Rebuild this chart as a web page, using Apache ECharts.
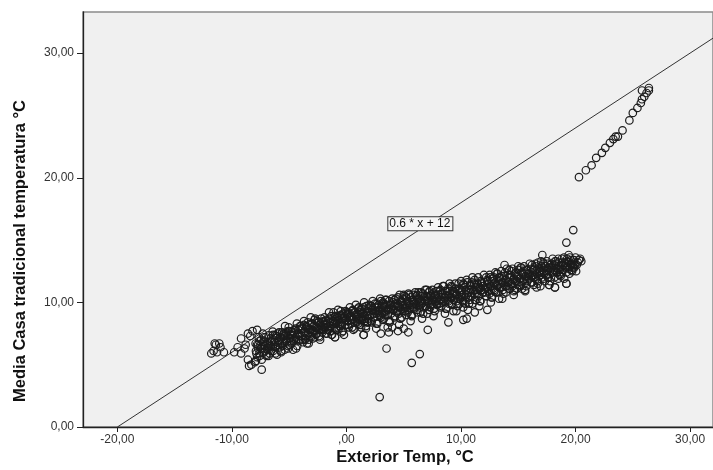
<!DOCTYPE html>
<html>
<head>
<meta charset="utf-8">
<script src="https://cdn.jsdelivr.net/npm/echarts@6/dist/echarts.min.js"></script>
<style>html,body{margin:0;padding:0;background:#fff}#c{width:713px;height:470px}</style>
</head>
<body>
<div id="c"></div>
<script>
// ---- axis ticks / labels ----
const xTicks = [-20, -10, 0, 10, 20, 30];
const xTickLabels = ['-20,00', '-10,00', ',00', '10,00', '20,00', '30,00'];
const yTicks = [0, 10, 20, 30];
const yTickLabels = ['0,00', '10,00', '20,00', '30,00'];
const xTitle = 'Exterior Temp, °C';
const yTitle = 'Media Casa tradicional temperatura °C';

// ---- reference line y = 0.6 * x + 12 ----
const lineSlope = 0.6;
const lineIntercept = 12;
const lineXRange = [-20, 32];
const lineLabel = '0.6 * x + 12';
const lineLabelAt = [6.45, 16.3];

// ---- points [Exterior Temp, Media Casa] ----
const leftCluster = [
  [-11.8,5.9],[-11.6,6.1],[-11.4,6.6],[-11.1,6.7],[-11.0,6.4],[-10.7,6.0],[-11.3,6.0],[-11.5,6.7],
  [-9.8,6.0],[-9.5,6.4],[-9.2,5.9],[-9.2,7.1],[-8.9,6.3],[-8.6,7.5],[-8.2,7.7],[-7.8,7.8],[-8.4,7.3],
  [-8.5,4.9],[-8.3,5.0],[-7.4,4.6],[-8.0,5.2],[-8.6,5.4],[-8.8,6.6]
];
const bandA = [
  [-7.9,6.1],[-7.8,5.6],[-7.7,6.6],[-7.6,5.9],[-7.5,6.3],[-7.4,5.4],[-7.3,6.8],[-7.2,6.0],[-7.1,6.5],[-7.0,5.8],[-7.9,5.3],[-7.6,6.9],[-7.2,7.2],
  [-6.9,6.2],[-6.8,6.7],[-6.7,5.9],[-6.6,6.5],[-6.5,7.0],[-6.4,6.1],[-6.3,6.8],[-6.2,6.4],[-6.1,7.3],[-6.0,6.6],[-6.8,5.7],[-6.4,7.4],[-6.2,5.9],
  [-5.9,6.9],[-5.8,6.4],[-5.7,7.1],[-5.6,6.7],[-5.5,7.5],[-5.4,6.2],[-5.3,7.0],[-5.2,6.8],[-5.1,7.7],[-5.0,6.6],[-5.7,6.0],[-5.4,7.3],[-5.1,6.3],
  [-4.9,7.1],[-4.8,6.7],[-4.7,7.4],[-4.6,6.9],[-4.5,7.8],[-4.4,7.2],[-4.3,6.5],[-4.2,7.5],[-4.1,7.0],[-4.0,7.9],[-4.8,7.6],[-4.4,6.3],[-4.1,7.3],
  [-3.9,7.3],[-3.8,6.8],[-3.7,7.6],[-3.6,7.1],[-3.5,8.0],[-3.4,7.4],[-3.3,6.7],[-3.2,7.8],[-3.1,7.2],[-3.0,8.3],[-3.7,8.2],[-3.3,7.0],[-3.0,7.6],
  [-2.9,7.7],[-2.8,7.2],[-2.7,8.0],[-2.6,7.5],[-2.5,8.4],[-2.4,7.8],[-2.3,7.0],[-2.2,8.1],[-2.1,7.6],[-2.0,8.5],[-2.8,8.6],[-2.4,7.3],[-2.1,7.9],
  [-1.9,8.0],[-1.8,7.5],[-1.7,8.3],[-1.6,7.8],[-1.5,8.7],[-1.4,8.1],[-1.3,7.4],[-1.2,8.5],[-1.1,7.9],[-1.0,8.8],[-1.8,8.2],[-1.4,7.7],[-1.0,7.2],
  [-0.9,8.3],[-0.8,7.8],[-0.7,8.6],[-0.6,8.1],[-0.5,9.0],[-0.4,8.4],[-0.3,7.7],[-0.2,8.8],[-0.1,8.2],[0.0,9.2],[-0.8,8.9],[-0.4,7.6],[-0.1,8.6],
  [0.1,8.5],[0.2,8.0],[0.3,8.9],[0.4,8.3],[0.5,9.3],[0.6,8.6],[0.7,7.9],[0.8,9.0],[0.9,8.4],[1.0,9.5],[0.2,9.1],[0.6,7.8],[0.9,8.8],
  [1.1,8.7],[1.2,8.2],[1.3,9.1],[1.4,8.6],[1.5,9.6],[1.6,8.9],[1.7,8.1],[1.8,9.3],[1.9,8.7],[2.0,9.8],[1.2,9.4],[1.5,7.4],[1.8,8.4],
  [2.1,9.0],[2.2,8.4],[2.3,9.4],[2.4,8.8],[2.5,9.9],[2.6,9.1],[2.7,8.3],[2.8,9.6],[2.9,8.9],[3.0,10.1],[2.2,9.7],[2.6,7.9],[2.9,9.3],
  [3.1,9.2],[3.2,8.6],[3.3,9.7],[3.4,9.0],[3.5,10.2],[3.6,9.4],[3.7,8.5],[3.8,9.8],[3.9,9.1],[4.0,10.3],[3.2,10.0],[3.6,8.0],[3.9,9.5],
  [4.1,9.4],[4.2,8.8],[4.3,9.9],[4.4,9.2],[4.5,10.4],[4.6,9.6],[4.7,8.7],[4.8,10.0],[4.9,9.3],[5.0,10.6],[4.2,10.2],[4.6,8.2],[4.9,9.8],
  [5.1,9.6],[5.2,9.0],[5.3,10.1],[5.4,9.4],[5.5,10.6],[5.6,9.8],[5.7,8.9],[5.8,10.2],[5.9,9.5],[6.0,10.8],[5.2,10.4],[5.6,8.5],[5.9,9.9],
  [6.1,9.8],[6.2,9.2],[6.3,10.3],[6.4,9.6],[6.5,10.8],[6.6,10.0],[6.7,9.1],[6.8,10.4],[6.9,9.7],[7.0,11.0],[6.2,10.6],[6.6,8.7],[6.9,10.1],
  [7.1,10.0],[7.2,9.4],[7.3,10.5],[7.4,9.8],[7.5,11.0],[7.6,10.2],[7.7,9.3],[7.8,10.6],[7.9,9.9],[8.0,11.2],[7.2,10.8],[7.6,8.9],[7.9,10.3],
  [8.1,10.2],[8.2,9.6],[8.3,10.7],[8.4,10.0],[8.5,11.3],[8.6,10.4],[8.7,9.5],[8.8,10.9],[8.9,10.1],[9.0,11.5],[8.2,11.0],[8.6,9.1],[8.9,10.6],
  [9.1,10.4],[9.2,9.8],[9.3,10.9],[9.4,10.2],[9.5,11.5],[9.6,10.6],[9.7,9.7],[9.8,11.1],[9.9,10.3],[10.0,11.7],[9.2,11.2],[9.6,9.3],[9.9,10.8],
  [10.1,10.6],[10.2,10.0],[10.3,11.2],[10.4,10.4],[10.5,11.8],[10.6,10.8],[10.7,9.9],[10.8,11.4],[10.9,10.5],[11.0,12.0],[10.2,11.5],[10.6,9.4],[10.9,11.0],
  [11.1,10.9],[11.2,10.2],[11.3,11.4],[11.4,10.7],[11.5,12.0],[11.6,11.1],[11.7,10.1],[11.8,11.6],[11.9,10.8],[12.0,12.2],[11.2,11.8],[11.6,9.7],[11.9,11.3],
  [12.1,11.1],[12.2,10.5],[12.3,11.7],[12.4,10.9],[12.5,12.2],[12.6,11.3],[12.7,10.4],[12.8,11.9],[12.9,11.0],[13.0,12.4],[12.2,12.0],[12.6,10.0],[12.9,11.5],
  [13.1,11.4],[13.2,10.8],[13.3,12.0],[13.4,11.2],[13.5,12.5],[13.6,11.6],[13.7,10.7],[13.8,12.1],[13.9,11.3],[14.0,12.7],[13.2,12.3],[13.6,10.3],[13.9,11.8],
  [14.1,11.6],[14.2,11.1],[14.3,12.2],[14.4,11.5],[14.5,12.7],[14.6,11.9],[14.7,11.0],[14.8,12.4],[14.9,11.7],[15.0,12.9],[14.2,12.6],[14.6,10.6],[14.9,12.1],
  [15.1,11.9],[15.2,11.3],[15.3,12.4],[15.4,11.7],[15.5,12.9],[15.6,12.1],[15.7,11.3],[15.8,12.6],[15.9,11.9],[16.0,13.1],[15.2,12.8],[15.6,10.9],[15.9,12.3],
  [16.1,12.1],[16.2,11.6],[16.3,12.7],[16.4,12.0],[16.5,13.1],[16.6,12.3],[16.7,11.5],[16.8,12.8],[16.9,12.2],[17.0,13.3],[16.2,13.0],[16.6,11.2],[16.9,12.5],
  [17.1,12.4],[17.2,11.9],[17.3,12.9],[17.4,12.2],[17.5,13.3],[17.6,12.6],[17.7,11.4],[17.8,13.0],[17.9,12.4],[18.0,13.5],[17.2,13.1],[17.6,12.0],[17.9,12.8],
  [18.1,12.6],[18.2,11.2],[18.3,13.1],[18.4,12.4],[18.5,13.5],[18.6,12.8],[18.7,12.1],[18.8,13.2],[18.9,12.6],[19.0,13.6],[18.2,13.3],[18.6,12.2],[18.9,13.0],
  [19.1,12.9],[19.2,11.5],[19.3,13.3],[19.4,12.7],[19.5,13.6],[19.6,13.0],[19.7,12.5],[19.8,13.4],[19.9,12.8],[20.0,13.6],[20.2,13.2],[20.4,13.5],[20.5,13.3],[19.4,13.8],[19.8,12.9],[20.1,13.0]
];
const bandB = [
  [-7.93,6.7],[-7.86,5.9],[-7.81,6.6],[-7.72,6.3],[-7.66,7.2],[-7.58,5.7],[-7.51,6.55],[-7.44,7.0],[-7.39,6.3],[-7.31,7.5],
  [-7.24,6.5],[-7.17,6.85],[-7.12,6.1],[-7.05,7.2],[-6.98,5.7],[-6.91,6.8],[-6.84,6.35],[-6.79,7.35],[-6.71,6.6],[-6.63,7.1],
  [-6.58,6.1],[-6.52,6.85],[-6.44,7.65],[-6.37,6.6],[-6.31,6.8],[-6.25,7.35],[-6.18,6.45],[-6.11,7.15],[-6.06,5.8],[-6.02,7.5],
  [-5.95,6.8],[-5.88,7.6],[-5.83,6.7],[-5.76,7.2],[-5.69,6.1],[-5.62,7.6],[-5.57,6.5],[-5.49,7.4],[-5.43,7.1],[-5.36,8.1],
  [-5.29,6.9],[-5.23,7.6],[-5.16,7.3],[-5.1,6.5],[-5.04,8.0],[-4.97,7.1],[-4.91,7.4],[-4.85,6.9],[-4.78,7.7],[-4.72,7.4],
  [-4.66,6.2],[-4.59,7.6],[-4.53,7.1],[-4.46,7.9],[-4.39,7.0],[-4.33,8.3],[-4.27,7.4],[-4.2,7.8],[-4.13,6.9],[-4.06,8.1],
  [-3.96,8.1],[-3.9,7.3],[-3.84,7.9],[-3.77,7.0],[-3.71,8.5],[-3.64,7.7],[-3.58,7.3],[-3.51,8.1],[-3.45,6.7],[-3.38,8.4],
  [-3.32,7.6],[-3.25,7.9],[-3.19,7.3],[-3.12,8.8],[-3.06,7.8],[-2.99,8.3],[-2.93,7.1],[-2.86,8.1],[-2.8,7.7],[-2.73,8.7],
  [-2.67,7.4],[-2.6,8.0],[-2.54,8.5],[-2.47,7.9],[-2.41,8.4],[-2.34,7.2],[-2.28,8.2],[-2.21,8.7],[-2.15,7.8],[-2.07,8.4],
  [-1.97,7.8],[-1.91,8.8],[-1.84,8.2],[-1.78,8.6],[-1.71,7.5],[-1.65,8.5],[-1.58,7.8],[-1.52,9.2],[-1.45,8.4],[-1.39,8.1],
  [-1.32,8.9],[-1.26,7.4],[-1.19,8.5],[-1.13,9.2],[-1.06,8.3],[-1.0,8.9],[-0.93,7.9],[-0.87,8.7],[-0.8,8.5],[-0.74,9.4],
  [-0.67,7.9],[-0.61,8.9],[-0.54,8.3],[-0.48,9.3],[-0.41,8.2],[-0.35,8.7],[-0.28,9.1],[-0.22,7.4],[-0.15,8.9],[-0.08,9.3],
  [0.04,9.0],[0.11,8.2],[0.17,9.2],[0.24,8.8],[0.3,9.6],[0.37,8.6],[0.43,8.9],[0.5,8.0],[0.56,9.4],[0.63,8.7],
  [0.69,9.2],[0.76,8.5],[0.82,9.8],[0.89,8.9],[0.95,9.1],[1.02,8.3],[1.08,9.6],[1.15,8.6],[1.21,9.2],[1.28,8.0],
  [1.34,9.5],[1.41,9.1],[1.47,8.8],[1.54,10.0],[1.6,8.5],[1.67,9.2],[1.73,9.7],[1.8,9.0],[1.86,8.4],[1.93,9.5],
  [2.03,8.9],[2.1,9.7],[2.16,8.5],[2.23,9.4],[2.29,10.1],[2.36,9.1],[2.42,8.8],[2.49,9.6],[2.55,9.3],[2.62,8.3],
  [2.68,9.9],[2.75,9.3],[2.81,9.8],[2.88,9.0],[2.94,10.3],[3.01,8.8],[3.07,9.6],[3.14,9.1],[3.2,9.9],[3.27,8.7],
  [3.33,9.6],[3.4,10.2],[3.46,9.3],[3.53,9.8],[3.59,9.0],[3.66,9.5],[3.72,10.1],[3.79,8.4],[3.85,9.8],[3.92,9.5],
  [4.05,10.0],[4.12,9.4],[4.18,9.7],[4.25,8.9],[4.31,10.3],[4.38,9.3],[4.44,9.9],[4.51,9.7],[4.57,9.1],[4.64,10.6],
  [4.7,9.6],[4.77,10.1],[4.83,8.8],[4.9,10.3],[4.96,9.5],[5.03,10.5],[5.09,9.3],[5.16,9.9],[5.22,9.6],[5.29,10.3],
  [5.35,9.2],[5.42,10.7],[5.48,9.9],[5.55,9.6],[5.61,10.4],[5.68,9.0],[5.74,10.2],[5.81,10.6],[5.87,9.6],[5.94,10.1],
  [6.02,9.9],[6.09,10.5],[6.15,9.4],[6.22,10.2],[6.28,10.8],[6.35,9.8],[6.41,10.1],[6.48,9.2],[6.54,10.5],[6.61,9.9],
  [6.67,10.7],[6.74,9.6],[6.8,10.2],[6.87,11.0],[6.93,9.7],[7.0,10.5],[7.06,9.1],[7.13,10.4],[7.19,10.1],[7.26,10.9],
  [7.32,9.6],[7.39,10.6],[7.45,10.2],[7.52,9.9],[7.58,10.7],[7.65,9.5],[7.71,10.5],[7.78,10.1],[7.84,10.9],[7.91,9.8],
  [8.04,10.6],[8.1,9.9],[8.17,10.9],[8.23,10.2],[8.3,9.7],[8.36,10.6],[8.43,11.3],[8.49,10.1],[8.56,10.4],[8.62,10.9],
  [8.69,9.5],[8.75,10.5],[8.82,10.2],[8.88,11.1],[8.95,9.9],[9.01,10.9],[9.08,10.4],[9.14,11.3],[9.21,9.9],[9.27,10.7],
  [9.34,9.3],[9.4,10.8],[9.47,10.5],[9.53,11.1],[9.6,10.1],[9.66,10.6],[9.73,10.3],[9.79,11.5],[9.86,9.9],[9.92,11.0],
  [10.03,10.4],[10.1,11.0],[10.16,10.1],[10.23,11.4],[10.29,10.7],[10.36,9.9],[10.42,11.0],[10.49,10.6],[10.55,11.6],[10.62,10.4],
  [10.68,11.0],[10.75,10.2],[10.81,11.3],[10.88,10.5],[10.94,11.6],[11.01,9.9],[11.07,11.0],[11.14,11.5],[11.2,10.7],[11.27,11.2],
  [11.33,10.2],[11.4,11.0],[11.46,11.5],[11.53,10.5],[11.59,11.2],[11.66,10.1],[11.72,11.7],[11.79,11.0],[11.85,11.5],[11.92,10.8],
  [12.02,11.6],[12.09,10.8],[12.15,11.2],[12.22,10.5],[12.28,11.8],[12.35,11.1],[12.41,11.5],[12.48,10.7],[12.54,12.0],[12.61,11.3],
  [12.67,10.4],[12.74,11.7],[12.8,11.1],[12.87,12.0],[12.93,10.9],[13.0,11.6],[13.06,10.8],[13.13,12.3],[13.19,11.3],[13.26,11.7],
  [13.32,10.3],[13.39,12.0],[13.45,11.5],[13.52,11.2],[13.58,12.1],[13.65,11.0],[13.71,11.6],[13.78,11.4],[13.84,12.4],[13.91,10.8],
  [14.03,11.3],[14.1,12.2],[14.16,11.6],[14.23,11.1],[14.29,12.0],[14.36,11.5],[14.42,12.5],[14.49,11.3],[14.55,11.8],[14.62,10.9],
  [14.68,12.3],[14.75,11.7],[14.81,12.2],[14.88,11.1],[14.94,12.0],[15.01,12.6],[15.07,11.4],[15.14,11.9],[15.2,11.6],[15.27,12.8],
  [15.33,11.1],[15.4,12.3],[15.46,11.8],[15.53,12.5],[15.59,11.0],[15.66,12.1],[15.72,12.6],[15.79,11.7],[15.85,12.3],[15.92,12.0],
  [16.02,12.3],[16.09,11.6],[16.15,12.7],[16.22,12.1],[16.28,12.6],[16.35,11.4],[16.41,12.2],[16.48,12.9],[16.54,11.9],[16.61,12.6],
  [16.67,11.7],[16.74,13.2],[16.8,12.1],[16.87,12.4],[16.93,11.3],[17.0,12.9],[17.06,12.0],[17.13,12.6],[17.19,13.2],[17.26,12.3],
  [17.32,11.7],[17.39,12.9],[17.45,12.5],[17.52,12.2],[17.58,13.1],[17.65,12.0],[17.71,12.8],[17.78,11.7],[17.84,12.7],[17.91,13.1],
  [18.03,12.4],[18.1,13.0],[18.16,12.0],[18.23,12.8],[18.29,13.3],[18.36,12.4],[18.42,12.7],[18.49,11.9],[18.55,13.2],[18.62,12.6],
  [18.68,13.0],[18.75,12.3],[18.81,13.5],[18.88,12.6],[18.94,13.0],[19.01,11.9],[19.07,13.2],[19.14,12.8],[19.2,12.4],[19.27,13.5],
  [19.33,12.8],[19.4,13.2],[19.46,12.3],[19.53,13.1],[19.59,13.4],[19.66,12.6],[19.72,13.0],[19.79,12.8],[19.85,13.4],[19.92,13.0],
  [20.05,12.5],[20.3,13.4]
];
const lowOutliers = [
  [2.9,2.4],[3.5,6.3],[6.4,5.85],[5.7,5.15],
  [3.0,7.5],[3.7,7.6],[4.5,7.7],[5.4,7.6],[7.1,7.8],[1.7,7.9],[5.0,7.9],[4.0,8.0],
  [-1.0,7.2],[1.5,7.4],[-3.6,7.0],[8.9,8.4],[10.2,8.6],[10.5,8.7],[11.2,9.2],[12.3,9.4],[10.2,9.6],
  [17.7,11.4],[18.2,11.2],[19.2,11.5]
];
const highOutliers = [
  [19.2,14.8],[19.8,15.8],[17.1,13.8],[13.8,13.0]
];
const upperStreak = [
  [20.3,20.05],[20.9,20.6],[21.4,21.0],[21.8,21.6],[22.3,22.0],[22.6,22.4],[23.0,22.8],[23.3,23.1],
  [23.5,23.3],[23.7,23.3],[24.1,23.8],[24.7,24.6],[25.0,25.2],[25.4,25.6],[25.7,26.0],[25.8,26.3],
  [26.0,26.5],[26.2,26.8],[26.4,27.0],[25.8,27.0],[26.4,27.2]
];

const allPoints = [].concat(leftCluster, bandA, bandB, lowOutliers, highOutliers, upperStreak);
const linePoints = lineXRange.map(x => [x, lineSlope * x + lineIntercept]);

const FONT = '"Liberation Sans", Arial, sans-serif';
const chart = echarts.init(document.getElementById('c'), null, {renderer: 'canvas'});
chart.setOption({
  animation: false,
  backgroundColor: '#ffffff',
  grid: {
    left: 83, right: -2, top: 12, bottom: 43,
    show: true, backgroundColor: '#f0f0f0', borderColor: '#8a8a8a', borderWidth: 1.5
  },
  graphic: [
    {
      type: 'text', x: 20, y: 251, rotation: Math.PI / 2, silent: true,
      style: {
        text: yTitle, align: 'center', verticalAlign: 'middle',
        font: 'bold 16.5px "Liberation Sans", Arial, sans-serif', fill: '#111'
      }
    },
    {
      type: 'text', x: 405, y: 457, silent: true,
      style: {
        text: xTitle, align: 'center', verticalAlign: 'middle',
        font: 'bold 16.5px "Liberation Sans", Arial, sans-serif', fill: '#111'
      }
    }
  ],
  xAxis: {
    type: 'value', min: -23, max: 32,
    axisLine: {show: true, onZero: false, lineStyle: {color: '#222', width: 1.3}},
    axisTick: {show: true, length: 5, lineStyle: {color: '#222'}, customValues: xTicks},
    axisLabel: {
      fontFamily: FONT, fontSize: 12, color: '#333', margin: 7, customValues: xTicks,
      formatter: v => xTickLabels[xTicks.indexOf(v)]
    },
    splitLine: {show: false}
  },
  yAxis: {
    type: 'value', min: 0, max: 33.3,
    axisLine: {show: true, onZero: false, lineStyle: {color: '#222', width: 1.3}},
    axisTick: {show: true, length: 6, lineStyle: {color: '#222'}, customValues: yTicks},
    axisLabel: {
      fontFamily: FONT, fontSize: 12, color: '#333', margin: 9, customValues: yTicks,
      formatter: v => yTickLabels[yTicks.indexOf(v)]
    },
    splitLine: {show: false}
  },
  series: [
    {
      type: 'line', data: linePoints, symbol: 'none', silent: true,
      lineStyle: {color: '#333', width: 1}, z: 2,
      markPoint: {
        symbol: 'rect', symbolSize: 0,
        data: [{coord: lineLabelAt, value: lineLabel}],
        label: {
          show: true, formatter: lineLabel, position: 'inside',
          fontFamily: FONT, fontSize: 12, color: '#111', lineHeight: 12,
          backgroundColor: '#f6f6f6', borderColor: '#333', borderWidth: 1,
          padding: [1, 2, 0, 1]
        }
      }
    },
    {
      type: 'scatter', data: allPoints, symbol: 'circle', symbolSize: 7.5, z: 3,
      itemStyle: {color: 'rgba(0,0,0,0)', borderColor: '#1c1c1c', borderWidth: 1.2, opacity: 1}
    }
  ]
});
</script>
</body>
</html>
